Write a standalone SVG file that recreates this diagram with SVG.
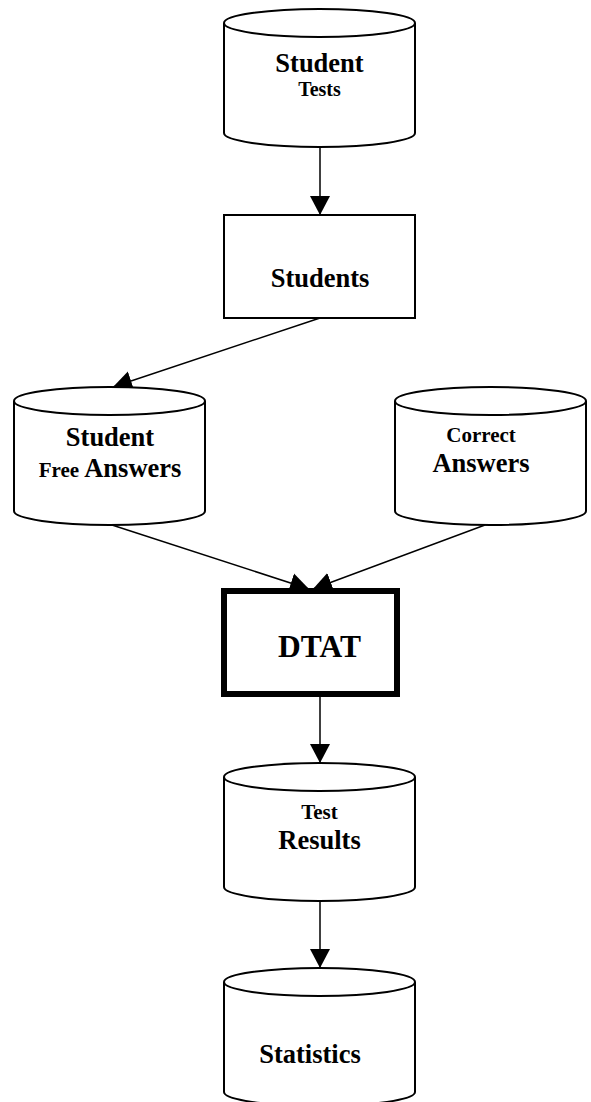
<svg xmlns="http://www.w3.org/2000/svg" width="591" height="1102" viewBox="0 0 591 1102">
<style>
.shape{fill:#fff;stroke:#000;stroke-width:2}
.cap{fill:none;stroke:#000;stroke-width:2}
.thick{fill:#fff;stroke:#000;stroke-width:6}
.conn{fill:none;stroke:#000;stroke-width:1.5}
text{font-family:"Liberation Serif","Times New Roman",serif;font-weight:bold;fill:#000;text-anchor:middle}
</style>
<defs>
<marker id="ah" markerUnits="userSpaceOnUse" markerWidth="20" markerHeight="22" refX="19" refY="10" orient="auto" viewBox="0 0 20 20">
<path d="M0,0 L19,10 L0,20 Z" fill="#000"/>
</marker>
</defs>
<rect width="591" height="1102" fill="#fff"/>
<g id="connectors">
<line class="conn" x1="320" y1="147" x2="320" y2="215" marker-end="url(#ah)"/>
<line class="conn" x1="320" y1="318" x2="113" y2="387" marker-end="url(#ah)"/>
<line class="conn" x1="112" y1="525" x2="309" y2="589" marker-end="url(#ah)"/>
<line class="conn" x1="485" y1="525" x2="313" y2="589" marker-end="url(#ah)"/>
<line class="conn" x1="320" y1="697" x2="320" y2="763" marker-end="url(#ah)"/>
<line class="conn" x1="320" y1="901" x2="320" y2="968" marker-end="url(#ah)"/>
</g>
<g id="student-tests">
<path class="shape" d="M224,23 A95.5,14 0 0 1 415,23 L415,133 A95.5,14 0 0 1 224,133 Z"/>
<path class="cap" d="M224,23 A95.5,14 0 0 0 415,23"/>
<text x="319.5" y="72" font-size="26.5">Student</text>
<text x="319.5" y="96" font-size="20">Tests</text>
</g>
<g id="students">
<rect class="shape" x="224" y="215" width="191" height="103"/>
<text x="320" y="287" font-size="26.5">Students</text>
</g>
<g id="student-free-answers">
<path class="shape" d="M14,401 A95.5,14 0 0 1 205,401 L205,511 A95.5,14 0 0 1 14,511 Z"/>
<path class="cap" d="M14,401 A95.5,14 0 0 0 205,401"/>
<text x="110" y="446" font-size="26.5">Student</text>
<text x="110" y="477" font-size="26.5"><tspan font-size="21">Free</tspan> Answers</text>
</g>
<g id="correct-answers">
<path class="shape" d="M395,401 A95.5,14 0 0 1 586,401 L586,511 A95.5,14 0 0 1 395,511 Z"/>
<path class="cap" d="M395,401 A95.5,14 0 0 0 586,401"/>
<text x="481" y="442" font-size="21">Correct</text>
<text x="481" y="472" font-size="26.5">Answers</text>
</g>
<g id="dtat">
<rect class="thick" x="224" y="591" width="173" height="103"/>
<text x="319.5" y="657" font-size="31.5">DTAT</text>
</g>
<g id="test-results">
<path class="shape" d="M224,777 A95.5,14 0 0 1 415,777 L415,887 A95.5,14 0 0 1 224,887 Z"/>
<path class="cap" d="M224,777 A95.5,14 0 0 0 415,777"/>
<text x="319.5" y="819" font-size="21">Test</text>
<text x="319.5" y="849" font-size="26.5">Results</text>
</g>
<g id="statistics">
<path class="shape" d="M224,982 A95.5,14 0 0 1 415,982 L415,1092 A95.5,14 0 0 1 224,1092 Z"/>
<path class="cap" d="M224,982 A95.5,14 0 0 0 415,982"/>
<text x="310" y="1063" font-size="26.5">Statistics</text>
</g>
</svg>
